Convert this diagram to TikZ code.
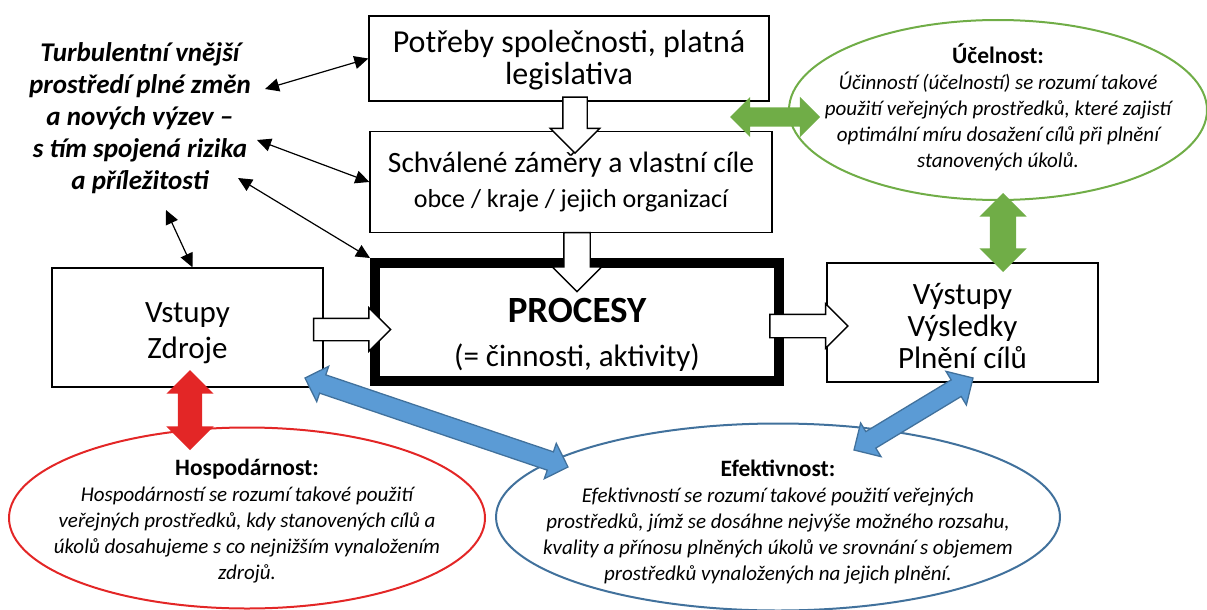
\documentclass[tikz,border=0pt]{standalone}
\usepackage{fontspec}
\setmainfont{Carlito}
\usetikzlibrary{positioning,shapes.geometric,shapes.arrows,calc,arrows.meta}

\definecolor{ucelgreen}{HTML}{70AD47}
\definecolor{hospred}{HTML}{E32626}
\definecolor{efekblue}{HTML}{5B9BD5}
\definecolor{efekline}{HTML}{41719C}

% block arrow laid from one named point to another
\newcommand{\blockarrow}[3]{%
  \path let \p1=($(#3)-(#2)$) in
    node[#1,rotate={atan2(\y1,\x1)},minimum height={veclen(\x1,\y1)}] at ($(#2)!.5!(#3)$) {};}
\newcommand{\ovaltitle}[1]{{\fontsize{23.5}{26}\selectfont\bfseries\upshape #1}}

\begin{document}
\begin{tikzpicture}[x=1pt,y=-1pt]
  \tikzset{
    box/.style={draw,line width=1.3pt,align=center,inner sep=0pt},
    oval/.style={ellipse,line width=2pt,inner sep=0pt},
    ovaltext/.style={align=center,font=\fontsize{21}{26}\selectfont\itshape},
    whitearrow/.style={single arrow,draw,fill=white,line width=1.4pt,inner xsep=0pt,single arrow tip angle=90},
    fatarrow/.style={double arrow,inner xsep=0pt,double arrow tip angle=90},
    linkarrow/.style={line width=1.2pt,{Triangle[length=14pt,width=13pt]}-{Triangle[length=14pt,width=13pt]}},
  }
  \useasboundingbox (0,0) rectangle (1207,610);

  % left text
  \node[align=center,font=\fontsize{27}{32}\selectfont\bfseries\itshape] (turbulence) at (140,118)
    {Turbulentní vnější\\prostředí plné změn\\a nových výzev --\\s tím spojená rizika\\a příležitosti};

  % boxes
  \node[box,minimum width=400,minimum height=85,font=\fontsize{32}{32}\selectfont] (potreby) at (569,58.5)
    {\rule{0pt}{26pt}Potřeby společnosti, platná\\legislativa};
  \node[box,minimum width=402,minimum height=101,font=\fontsize{29.5}{35}\selectfont] (schvalene) at (571,182)
    {Schválené záměry a vlastní cíle\\{\fontsize{26}{35}\selectfont obce / kraje / jejich organizací}};
  \node[box,line width=10pt,minimum width=404,minimum height=118,font=\fontsize{31}{44}\selectfont] (procesy) at (577,322)
    {\rule{0pt}{50pt}{\fontsize{37}{44}\selectfont\bfseries PROCESY}\\(= činnosti, aktivity)};
  \node[box,minimum width=271,minimum height=119,font=\fontsize{31}{36}\selectfont] (vstupy) at (187.5,327.5)
    {\rule{0pt}{32pt}Vstupy\\Zdroje};
  \node[box,minimum width=271,minimum height=119,font=\fontsize{31}{32}\selectfont] (vystupy) at (962.5,322.5)
    {\rule{0pt}{29pt}Výstupy\\Výsledky\\Plnění cílů};

  % ovals
  \node[oval,draw=ucelgreen,minimum width=418,minimum height=180] (ucelnost) at (998,110) {};
  \node[ovaltext] (ucelnost-txt) at (998,107)
    {\ovaltitle{Účelnost:}\\Účinností (účelností) se rozumí takové\\použití veřejných prostředků, které zajistí\\optimální míru dosažení cílů při plnění\\stanovených úkolů.};
  \node[oval,draw=hospred,minimum width=476,minimum height=181] (hospodarnost) at (247,518) {};
  \node[ovaltext] (hospodarnost-txt) at (247,521)
    {\ovaltitle{Hospodárnost:}\\Hospodárností se rozumí takové použití\\veřejných prostředků, kdy stanovených cílů a\\úkolů dosahujeme s co nejnižším vynaložením\\zdrojů.};
  \node[oval,draw=efekline,minimum width=564,minimum height=187] (efektivnost) at (778,517) {};
  \node[ovaltext] (efektivnost-txt) at (778,522)
    {\ovaltitle{Efektivnost:}\\Efektivností se rozumí takové použití veřejných\\prostředků, jímž se dosáhne nejvýše možného rozsahu,\\kvality a přínosu plněných úkolů ve srovnání s objemem\\prostředků vynaložených na jejich plnění.};

  % thin links to the left text
  \coordinate (t1) at (265,89);
  \coordinate (t2) at (257,140);
  \coordinate (t3) at (238,178);
  \coordinate (t4) at (166,210);
  \draw[linkarrow] (t1) -- (potreby.west);
  \draw[linkarrow] (t2) -- (schvalene.west);
  \draw[linkarrow] (t3) -- (procesy.north west);
  \draw[linkarrow] (t4) -- ([xshift=5pt]vstupy.north);

  % ends of the block arrows
  \coordinate (potreby-out) at (575,91);
  \coordinate (schvalene-in) at (575,147);
  \coordinate (schvalene-out) at (577,226);
  \coordinate (procesy-top) at (577,285);
  \coordinate (vstupy-out) at (308,329.5);
  \coordinate (procesy-left) at (385,329.5);
  \coordinate (procesy-out) at (764,326);
  \coordinate (vystupy-in) at (842,326);
  \coordinate (ucel-left) at (730,117);
  \coordinate (ucel-right) at (820,117);
  \coordinate (ucel-down) at (1003,193);
  \coordinate (vystupy-top) at (1003,272);
  \coordinate (vstupy-down) at (190,370);
  \coordinate (hosp-top) at (190,450);
  \coordinate (vstupy-corner) at (305,378);
  \coordinate (efek-left) at (568,467);
  \coordinate (efek-right) at (854,450);
  \coordinate (vystupy-bottom) at (973,378);

  \blockarrow{whitearrow,inner ysep=11.5pt,single arrow head extend=12.5pt}{potreby-out}{schvalene-in}
  \blockarrow{whitearrow,inner ysep=12.5pt,single arrow head extend=11.5pt}{schvalene-out}{procesy-top}
  \blockarrow{whitearrow,inner ysep=10.5pt,single arrow head extend=10.5pt}{vstupy-out}{procesy-left}
  \blockarrow{whitearrow,inner ysep=11pt,single arrow head extend=10.5pt}{procesy-out}{vystupy-in}

  \blockarrow{fatarrow,fill=ucelgreen,inner ysep=9.5pt,double arrow head extend=10.5pt}{ucel-left}{ucel-right}
  \blockarrow{fatarrow,fill=ucelgreen,inner ysep=13pt,double arrow head extend=10.5pt}{ucel-down}{vystupy-top}
  \blockarrow{fatarrow,fill=hospred,inner ysep=12pt,double arrow head extend=11.5pt}{vstupy-down}{hosp-top}
  \blockarrow{fatarrow,draw=efekline,fill=efekblue,line width=1.3pt,inner ysep=9pt,double arrow head extend=9pt}{vstupy-corner}{efek-left}
  \blockarrow{fatarrow,draw=efekline,fill=efekblue,line width=1.3pt,inner ysep=9pt,double arrow head extend=10pt}{efek-right}{vystupy-bottom}
\end{tikzpicture}
\end{document}
